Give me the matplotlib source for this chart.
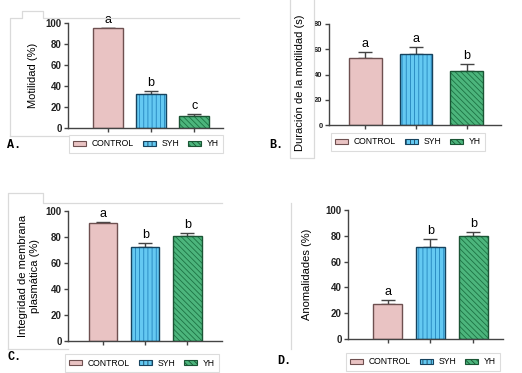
import numpy as np
import matplotlib.pyplot as plt
from matplotlib.patches import Patch
from matplotlib.lines import Line2D

# data
groups = ["CONTROL", "SYH", "YH"]

motilidad = [95, 32, 11]
motilidad_err = [0, 3, 2.5]
motilidad_let = ["a", "b", "c"]

duracion = [53, 56, 43]
duracion_err = [5, 5.5, 5]
duracion_let = ["a", "a", "b"]

integridad = [90.5, 72.5, 80.5]
integridad_err = [1.2, 3.2, 2.6]
integridad_let = ["a", "b", "b"]

anomalidades = [27, 71.5, 80]
anomalidades_err = [3.5, 6, 3]
anomalidades_let = ["a", "b", "b"]

W, H = 522, 373
plt.rcParams['font.family'] = ['Liberation Sans', 'DejaVu Sans']
plt.rcParams['hatch.linewidth'] = 0.6

fills = ["#e9c3c3", "#64c9f2", "#4cb57c"]
hatch_cols = ["#e9c3c3", "#2384bd", "#1d7344"]
edges = ["#6e5050", "#17435e", "#1b5535"]
hatches = [None, "||||", "\\\\\\\\\\\\"]
axis_col = "#444444"
frame_col = "#dadada"

fig = plt.figure(figsize=(W / 100, H / 100), dpi=100)


def px_axes(x0, ytop, x1, ybot):
    return fig.add_axes([x0 / W, 1 - ybot / H, (x1 - x0) / W, (ybot - ytop) / H])


def draw_panel(ax, vals, errs, lets, ymax, ystep, width, xlim, ylabel,
               tick_fs=7, lab_fs=8):
    x = np.arange(len(vals))
    for i in range(len(vals)):
        ax.bar(x[i], vals[i], width, color=fills[i], edgecolor=hatch_cols[i],
               linewidth=0, hatch=hatches[i], zorder=2)
        ax.bar(x[i], vals[i], width, fill=False, edgecolor=edges[i],
               linewidth=1.0, zorder=3)
    ax.errorbar(x, vals, yerr=[np.zeros(len(vals)), errs], fmt='none',
                ecolor=axis_col, elinewidth=1.0, capsize=5, capthick=1.0,
                zorder=1)
    for i in range(len(vals)):
        ax.annotate(lets[i], (x[i], vals[i] + errs[i]), xytext=(0, 1.5),
                    textcoords='offset points', ha='center', va='bottom',
                    fontsize=9, annotation_clip=False)
    ax.set_ylim(0, ymax)
    ax.set_xlim(*xlim)
    ax.set_yticks(np.arange(0, ymax + 1, ystep))
    ax.set_xticks(x)
    ax.set_xticklabels([])
    for s in ['top', 'right']:
        ax.spines[s].set_visible(False)
    for s in ['left', 'bottom']:
        ax.spines[s].set_color(axis_col)
        ax.spines[s].set_linewidth(1.0)
    ax.tick_params(colors=axis_col, length=3, width=1.0, pad=1.5)
    for t in ax.get_yticklabels():
        t.set_fontweight('bold')
        t.set_fontsize(tick_fs)
        t.set_color('#222222')
    ax.set_ylabel(ylabel, fontsize=lab_fs)


def legend_at(cx, cy):
    handles = [Patch(facecolor=fills[i], edgecolor=edges[i], hatch=hatches[i],
                     linewidth=0.8) for i in range(3)]
    leg = fig.legend(handles, groups, loc='center',
                     bbox_to_anchor=(cx / W, 1 - cy / H), ncol=3,
                     fontsize=6.2, handlelength=1.5, handleheight=0.6,
                     handletextpad=0.6, columnspacing=1.1, borderpad=0.5,
                     fancybox=False, frameon=True)
    leg.get_frame().set_edgecolor("#d4d4d4")
    leg.get_frame().set_linewidth(0.8)


def frame_line(xs, ys):
    fig.add_artist(Line2D([v / W for v in xs], [1 - v / H for v in ys],
                          color=frame_col, linewidth=0.9))


# light frames left over from the pasted panels
frame_line([10, 10, 22, 22, 43, 43, 239], [136, 18, 18, 11, 11, 18, 18])
frame_line([10, 68], [136, 136])
frame_line([290, 290, 314, 314], [0, 158, 158, 0])
frame_line([8, 8, 43, 43, 222], [349, 193, 193, 203, 203])
frame_line([8, 68], [349, 349])
frame_line([291, 291], [203, 349])

# A
axA = px_axes(68, 23, 223, 128)
draw_panel(axA, motilidad, motilidad_err, motilidad_let, 100, 20, 0.7,
           (-0.93, 2.67), "Motilidad (%)")
axA.yaxis.set_label_coords(-0.195, 0.5)
legend_at(146, 144)

# B
axB = px_axes(329, 24, 501, 125)
draw_panel(axB, duracion, duracion_err, duracion_let, 80, 20, 0.65,
           (-0.72, 2.68), "Duración de la motilidad (s)", tick_fs=5.5)
axB.yaxis.set_label_coords(-0.137, 0.42)
legend_at(408, 142)

# C
axC = px_axes(68, 211, 222, 341)
draw_panel(axC, integridad, integridad_err, integridad_let, 100, 20, 0.67,
           (-0.83, 2.82), "Integridad de membrana\nplasmática (%)")
axC.yaxis.set_label_coords(-0.185, 0.5)
legend_at(142, 363)

# D
axD = px_axes(348, 210, 503, 339)
draw_panel(axD, anomalidades, anomalidades_err, anomalidades_let, 100, 20,
           0.67, (-0.92, 2.69), "Anomalidades (%)")
axD.yaxis.set_label_coords(-0.23, 0.5)
legend_at(423, 362)

for lab, x, y in [("A.", 14, 145), ("B.", 276, 145), ("C.", 14, 357),
                  ("D.", 284, 361)]:
    fig.text(x / W, 1 - y / H, lab, fontsize=8.5, fontweight='bold',
             family=['Liberation Mono', 'DejaVu Sans Mono'],
             ha='center', va='center')

fig.savefig("out.png", dpi=100)
